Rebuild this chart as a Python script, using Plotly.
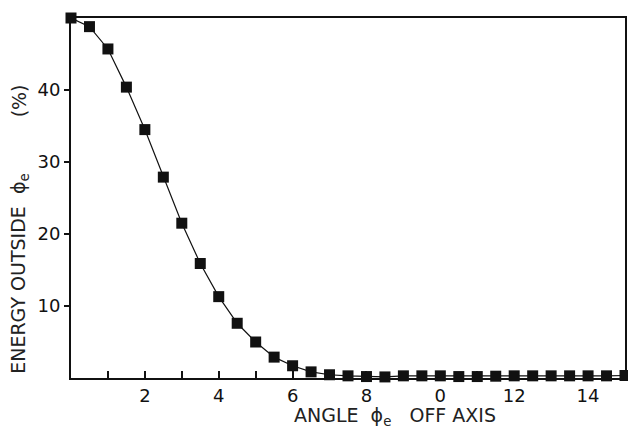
import plotly.graph_objects as go

angle = [0, 0.5, 1, 1.5, 2, 2.5, 3, 3.5, 4, 4.5, 5, 5.5, 6, 6.5, 7, 7.5, 8, 8.5,
         9, 9.5, 10, 10.5, 11, 11.5, 12, 12.5, 13, 13.5, 14, 14.5, 15]
energy = [50, 48.8, 45.7, 40.4, 34.5, 27.9, 21.5, 15.9, 11.3, 7.6, 5.0, 2.9, 1.7,
          0.85, 0.45, 0.3, 0.2, 0.15, 0.3, 0.3, 0.3, 0.2, 0.2, 0.25, 0.3, 0.3, 0.3,
          0.3, 0.3, 0.3, 0.35]
x_tickvals = [2, 4, 6, 8, 10, 12, 14]
x_ticktext = ["2", "4", "6", "8", "0", "12", "14"]
y_tickvals = [10, 20, 30, 40]
y_ticktext = ["10", "20", "30", "40"]

FONT = "DejaVu Sans"

fig = go.Figure()
fig.add_trace(go.Scatter(
    x=angle, y=energy, mode="lines+markers",
    line=dict(color="#111", width=1.2),
    marker=dict(symbol="square", size=11, color="#111"),
    cliponaxis=False, showlegend=False,
))

fig.update_layout(
    width=628, height=429,
    margin=dict(l=71, r=1, t=18, b=51),
    plot_bgcolor="white", paper_bgcolor="white",
    font=dict(family=FONT, color="#111"),
    xaxis=dict(range=[0, 15], tickvals=x_tickvals, ticktext=x_ticktext,
               ticks="inside", ticklen=7, tickwidth=1.5, tickcolor="#111",
               minor=dict(ticks="inside", tick0=1, dtick=2, ticklen=7,
                          tickwidth=1.5, tickcolor="#111", showgrid=False),
               showline=True, linecolor="#111", linewidth=2, mirror=True,
               showgrid=False, zeroline=False,
               tickfont=dict(size=18, family=FONT)),
    yaxis=dict(range=[0, 50], tickvals=y_tickvals, ticktext=y_ticktext,
               ticks="outside", ticklen=5, tickwidth=1.5, tickcolor="#111",
               showline=True, linecolor="#111", linewidth=2, mirror=True,
               showgrid=False, zeroline=False,
               tickfont=dict(size=18, family=FONT)),
    annotations=[
        dict(text="ANGLE  ϕ<sub>e</sub>   OFF AXIS", xref="paper", yref="paper",
             x=0.585, y=-0.108, xanchor="center", yanchor="middle",
             showarrow=False, font=dict(size=19, family=FONT, color="#222")),
        dict(text="ENERGY OUTSIDE  ϕ<sub>e</sub>", xref="paper", yref="paper",
             x=-0.0935, y=0.29, xanchor="center", yanchor="middle", textangle=-90,
             showarrow=False, font=dict(size=19, family=FONT, color="#222")),
        dict(text="(%)", xref="paper", yref="paper",
             x=-0.0935, y=0.769, xanchor="center", yanchor="middle", textangle=-90,
             showarrow=False, font=dict(size=19, family=FONT, color="#222")),
    ],
)

fig.write_html(
    "out.html",
    config={"displayModeBar": False},
    post_script="document.body.style.margin='0';document.body.style.overflow='hidden';",
)
